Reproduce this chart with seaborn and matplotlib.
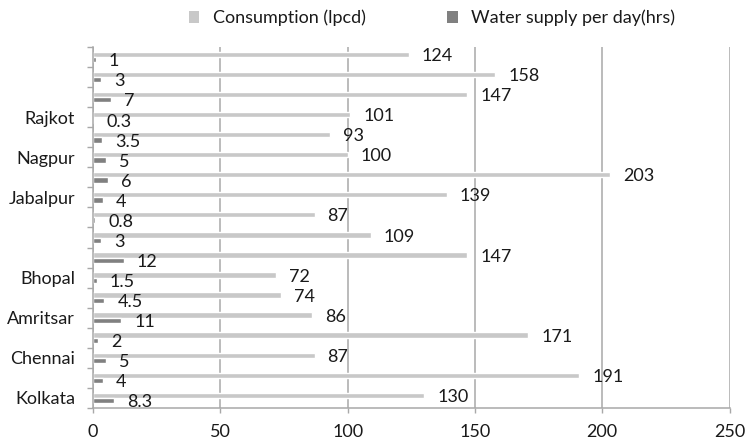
import matplotlib
matplotlib.use("Agg")
import matplotlib.pyplot as plt
from matplotlib.patches import Patch
from matplotlib.ticker import FixedLocator
import numpy as np
import pandas as pd
import seaborn as sns

# Cities listed from top to bottom (only every other label is printed)
cities = ["", "", "", "Rajkot", "", "Nagpur", "", "Jabalpur", "", "",
          "", "Bhopal", "", "Amritsar", "", "Chennai", "", "Kolkata"]
consumption = [124, 158, 147, 101, 93, 100, 203, 139, 87, 109,
               147, 72, 74, 86, 171, 87, 191, 130]
supply_hours = [1, 3, 7, 0.3, 3.5, 5, 6, 4, 0.8, 3,
                12, 1.5, 4.5, 11, 2, 5, 4, 8.3]
series_names = ["Consumption (lpcd)", "Water supply per day(hrs)"]
series_colors = ["#c8c8c8", "#808080"]
x_ticks = [0, 50, 100, 150, 200, 250]

n = len(cities)
df = pd.DataFrame({
    "slot": list(range(n)) * 2,
    "series": [series_names[0]] * n + [series_names[1]] * n,
    "value": consumption + supply_hours,
})

FS = 13
sns.set_theme(style="white")
plt.rcParams["font.family"] = ["Lato", "DejaVu Sans"]
plt.rcParams["font.size"] = FS

W, H = 746, 440
fig = plt.figure(figsize=(W / 100, H / 100), dpi=100)
ax_left, ax_right, ax_top, ax_bottom = 93, 729.5, 47, 408
ax = fig.add_axes([ax_left / W, 1 - ax_bottom / H,
                   (ax_right - ax_left) / W, (ax_bottom - ax_top) / H])

sns.barplot(data=df, x="value", y="slot", hue="series", orient="h",
            hue_order=series_names, palette=series_colors,
            width=0.53, dodge=True, saturation=1, legend=False, ax=ax)

# value labels at the bar ends
for container, vals in zip(ax.containers, [consumption, supply_hours]):
    texts = ax.bar_label(container, labels=[f"{v:g}" for v in vals],
                         padding=9.4, fontsize=FS, color="#1a1a1a")
    for t in texts:
        t.xyann = (9.4, -1.2)

grid_col = "#a8a8a8"
ax.set_xlim(0, 250)
ax.set_ylim(n - 0.5, -0.5)
ax.set_xticks(x_ticks)
ax.set_xticklabels([str(v) for v in x_ticks])
ax.xaxis.grid(True, color=grid_col, linewidth=1.1)
ax.yaxis.grid(False)
ax.set_axisbelow(True)

ax.set_yticks(range(n))
ax.set_yticklabels(cities)
ax.yaxis.set_minor_locator(FixedLocator(np.arange(-0.5, n, 1.0)))
ax.tick_params(axis="y", which="major", length=0, pad=13, labelsize=FS,
               labelcolor="#1a1a1a")
ax.tick_params(axis="y", which="minor", length=4.3, width=1.0,
               color=grid_col, left=True)
ax.tick_params(axis="x", which="major", length=3.6, width=1.0,
               color=grid_col, pad=8, labelsize=FS, labelcolor="#1a1a1a",
               bottom=True)
ax.set_xlabel("")
ax.set_ylabel("")

for side in ["top", "right"]:
    ax.spines[side].set_visible(False)
for side in ["left", "bottom"]:
    ax.spines[side].set_color(grid_col)
    ax.spines[side].set_linewidth(1.1)

handles = [Patch(facecolor=c, edgecolor="none") for c in series_colors]
fig.legend(handles, series_names, loc="center", ncol=2,
           bbox_to_anchor=(432 / W, 1 - 18 / H), frameon=False,
           handlelength=0.6, handleheight=0.6, handletextpad=0.75,
           columnspacing=4.5, fontsize=FS, labelcolor="#1a1a1a")

fig.savefig("out.png", dpi=100)
